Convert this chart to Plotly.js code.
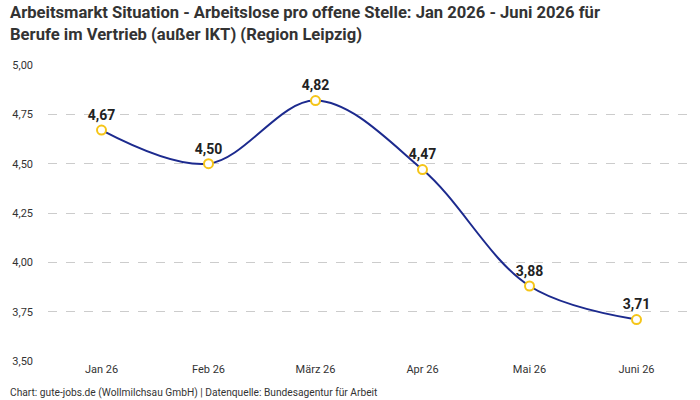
<!DOCTYPE html>
<html>
<head>
<meta charset="utf-8">
<script src="https://cdn.plot.ly/plotly-3.0.1.min.js"></script>
<style>
  html, body { margin: 0; padding: 0; background: #fff; }
  #chart { width: 700px; height: 400px; }
</style>
</head>
<body>
<div id="chart"></div>
<script>
// Monthly ratio of unemployed persons per open position
const months = ["Jan 26", "Feb 26", "März 26", "Apr 26", "Mai 26", "Juni 26"];
const ratio = [4.67, 4.50, 4.82, 4.47, 3.88, 3.71];
const yTicks = [3.5, 3.75, 4.0, 4.25, 4.5, 4.75, 5.0];

const FONT = "Roboto, 'Noto Sans', sans-serif";
const W = 700, H = 400;
const M = { l: 48, r: 10, t: 65, b: 39 };
const plotW = W - M.l - M.r, plotH = H - M.t - M.b;
// pixel position (from the page's top-left) -> paper coordinates
const px = x => (x - M.l) / plotW;
const py = y => (H - M.b - y) / plotH;

const trace = {
  type: "scatter",
  mode: "lines+markers+text",
  x: months,
  y: ratio,
  line: { color: "#1c2a8e", width: 2, shape: "spline", smoothing: 1 },
  marker: { size: 9, color: "#ffffff", line: { color: "#f5c518", width: 2 } },
  texttemplate: "%{y:.2f}",
  textposition: "top center",
  textfont: { family: FONT, size: 14, color: "#222", weight: "bold" },
  cliponaxis: false,
  hoverinfo: "skip"
};

const layout = {
  width: W,
  height: H,
  separators: ",.",
  paper_bgcolor: "#fff",
  plot_bgcolor: "#fff",
  margin: M,
  font: { family: FONT, size: 11, color: "#333" },
  showlegend: false,
  xaxis: {
    type: "category",
    range: [-0.5, 5.5],
    showgrid: false,
    zeroline: false,
    showline: false,
    ticks: "",
    tickfont: { family: FONT, size: 11, color: "#333" }
  },
  yaxis: {
    range: [3.5, 5.0],
    tickvals: yTicks,
    tickformat: ".2f",
    showgrid: true,
    gridcolor: "#cccccc",
    griddash: "dash",
    gridwidth: 1,
    zeroline: false,
    showline: false,
    ticks: "",
    ticklabelstandoff: 14,
    tickfont: { family: FONT, size: 11, color: "#333" }
  },
  annotations: [
    {
      text: "<b>Arbeitsmarkt Situation - Arbeitslose pro offene Stelle: Jan 2026 - Juni 2026 für<br>Berufe im Vertrieb (außer IKT) (Region Leipzig)</b>",
      xref: "paper", yref: "paper",
      x: px(8), y: py(1), xanchor: "left", yanchor: "top", align: "left",
      showarrow: false,
      font: { family: FONT, size: 16.6, color: "#333" }
    },
    {
      text: "Chart: gute-jobs.de (Wollmilchsau GmbH) | Datenquelle: Bundesagentur für Arbeit",
      xref: "paper", yref: "paper",
      x: px(8), y: py(385), xanchor: "left", yanchor: "top",
      showarrow: false,
      font: { family: FONT, size: 10.2, color: "#333" }
    }
  ]
};

Plotly.newPlot("chart", [trace], layout, { displayModeBar: false, staticPlot: true });
</script>
</body>
</html>
